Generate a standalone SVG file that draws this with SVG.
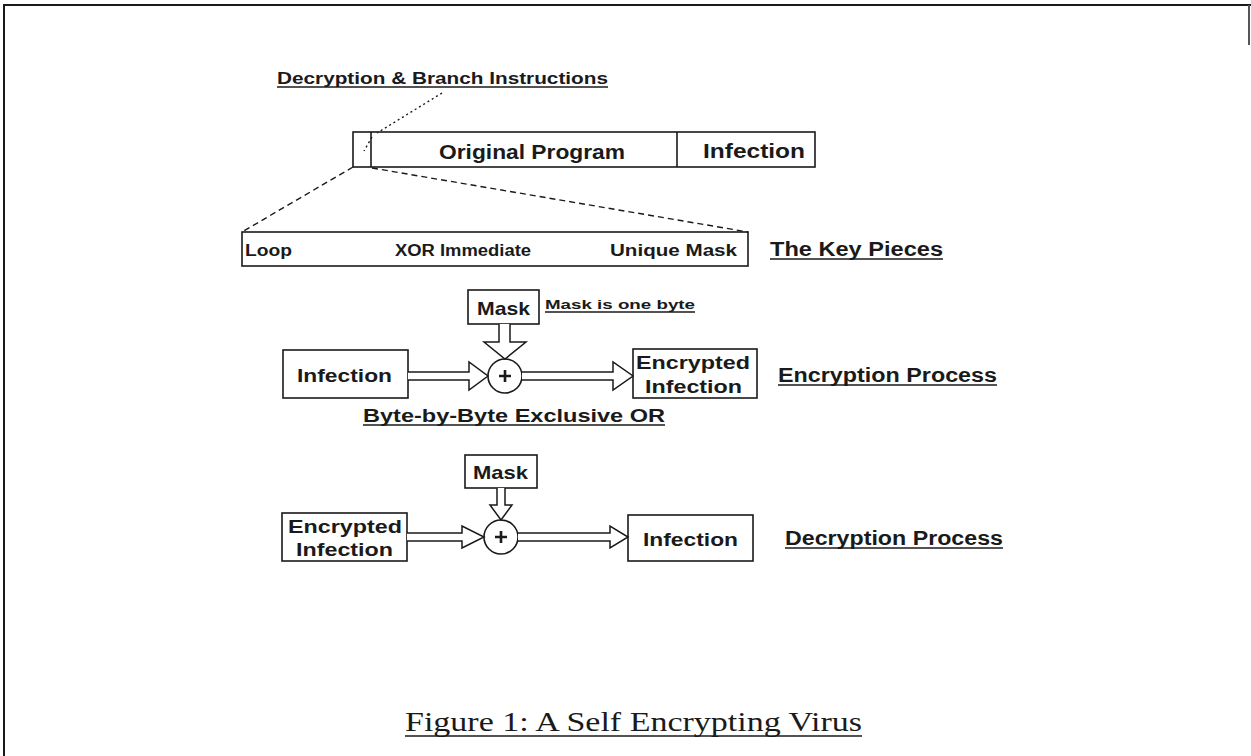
<svg xmlns="http://www.w3.org/2000/svg" width="1251" height="756" viewBox="0 0 1251 756">
<style>
.t{font-family:"Liberation Sans",Arial,sans-serif;font-weight:bold;fill:#1a1a1a}
.box{fill:none;stroke:#1a1a1a;stroke-width:1.6}
.ul{stroke:#1a1a1a;stroke-width:1.3}
.arr{fill:#fff;stroke:#1a1a1a;stroke-width:1.5;stroke-linejoin:miter}
.cap{font-family:"Liberation Serif","Times New Roman",serif;fill:#1a1a1a}
</style>
<rect width="1251" height="756" fill="#fff"/>
<g id="frame">
<path d="M4 756 V5 H1251" fill="none" stroke="#1a1a1a" stroke-width="2"/>
<path d="M1249 5 V45" stroke="#555" stroke-width="2"/>
</g>
<g id="label-decryption-branch">
<text class="t" x="277" y="84" font-size="17" textLength="331" lengthAdjust="spacingAndGlyphs">Decryption &amp; Branch Instructions</text>
<line class="ul" x1="277" y1="87" x2="608" y2="87"/>
</g>
<g id="program">
<rect class="box" x="353" y="132" width="462" height="35"/>
<line class="box" x1="371" y1="132" x2="371" y2="167"/>
<line class="box" x1="677" y1="132" x2="677" y2="167"/>
<text class="t" x="439" y="159" font-size="20" textLength="186" lengthAdjust="spacingAndGlyphs">Original Program</text>
<text class="t" x="703" y="158" font-size="20" textLength="102" lengthAdjust="spacingAndGlyphs">Infection</text>
</g>
<g id="keypieces">
<rect class="box" x="242" y="232" width="506" height="34"/>
<text class="t" x="245" y="256" font-size="16" textLength="47" lengthAdjust="spacingAndGlyphs">Loop</text>
<text class="t" x="395" y="256" font-size="16" textLength="136" lengthAdjust="spacingAndGlyphs">XOR Immediate</text>
<text class="t" x="610" y="256" font-size="16" textLength="127" lengthAdjust="spacingAndGlyphs">Unique Mask</text>
</g>
<g id="label-keypieces">
<text class="t" x="770" y="256" font-size="20" textLength="173" lengthAdjust="spacingAndGlyphs">The Key Pieces</text>
<line class="ul" x1="770" y1="259" x2="943" y2="259"/>
</g>
<g id="enc-mask">
<rect class="box" x="468" y="290" width="71" height="34"/>
<text class="t" x="477" y="315" font-size="19" textLength="53" lengthAdjust="spacingAndGlyphs">Mask</text>
</g>
<g id="label-mask-byte">
<text class="t" x="545" y="309" font-size="13" textLength="150" lengthAdjust="spacingAndGlyphs">Mask is one byte</text>
<line class="ul" x1="545" y1="312" x2="695" y2="312"/>
</g>
<g id="enc-infection">
<rect class="box" x="283" y="350" width="125" height="48"/>
<text class="t" x="297" y="382" font-size="19" textLength="95" lengthAdjust="spacingAndGlyphs">Infection</text>
</g>
<g id="enc-xor">
<circle class="box" cx="505" cy="376" r="17"/>
<path d="M499 376 H511 M505 370 V382" stroke="#1a1a1a" stroke-width="2.6"/>
</g>
<g id="enc-encrypted">
<rect class="box" x="633" y="349" width="124" height="49"/>
<text class="t" x="636" y="369" font-size="19" textLength="114" lengthAdjust="spacingAndGlyphs">Encrypted</text>
<text class="t" x="645" y="393" font-size="19" textLength="97" lengthAdjust="spacingAndGlyphs">Infection</text>
</g>
<g id="label-encryption">
<text class="t" x="778" y="382" font-size="20" textLength="219" lengthAdjust="spacingAndGlyphs">Encryption Process</text>
<line class="ul" x1="778" y1="385" x2="997" y2="385"/>
</g>
<g id="label-xor">
<text class="t" x="363" y="422" font-size="19" textLength="302" lengthAdjust="spacingAndGlyphs">Byte-by-Byte Exclusive OR</text>
<line class="ul" x1="363" y1="425" x2="665" y2="425"/>
</g>
<g id="dec-mask">
<rect class="box" x="465" y="455" width="72" height="33"/>
<text class="t" x="473" y="479" font-size="19" textLength="55" lengthAdjust="spacingAndGlyphs">Mask</text>
</g>
<g id="dec-encrypted">
<rect class="box" x="282" y="513" width="125" height="48"/>
<text class="t" x="288" y="533" font-size="19" textLength="114" lengthAdjust="spacingAndGlyphs">Encrypted</text>
<text class="t" x="296" y="556" font-size="19" textLength="97" lengthAdjust="spacingAndGlyphs">Infection</text>
</g>
<g id="dec-xor">
<circle class="box" cx="501" cy="537" r="17"/>
<path d="M495 537 H507 M501 531 V543" stroke="#1a1a1a" stroke-width="2.6"/>
</g>
<g id="dec-infection">
<rect class="box" x="628" y="515" width="125" height="46"/>
<text class="t" x="643" y="546" font-size="19" textLength="95" lengthAdjust="spacingAndGlyphs">Infection</text>
</g>
<g id="label-decryption">
<text class="t" x="785" y="545" font-size="20" textLength="218" lengthAdjust="spacingAndGlyphs">Decryption Process</text>
<line class="ul" x1="785" y1="548" x2="1003" y2="548"/>
</g>
<g id="connectors">
<path d="M442 93 L377 133 M372 137 L364 151" fill="none" stroke="#1a1a1a" stroke-width="1.4" stroke-dasharray="2 3"/>
<path d="M353 167 L242 232 M372 168 L748 232" fill="none" stroke="#1a1a1a" stroke-width="1.4" stroke-dasharray="6 4"/>
<path class="arr" d="M499 324 V342 H484 L505 359 L526 342 H510 V324"/>
<path class="arr" d="M408 372 H469 V362 L488 376 L469 390 V380 H408"/>
<path class="arr" d="M522 372 H613 V362 L633 376 L613 390 V380 H522"/>
<path class="arr" d="M497 488 V505 H490 L501 520 L512 505 H505 V488"/>
<path class="arr" d="M407 533 H462 V526 L484 537 L462 548 V541 H407"/>
<path class="arr" d="M518 533 H610 V526 L628 537 L610 548 V541 H518"/>
</g>
<g id="caption">
<text class="cap" x="405" y="731" font-size="28" textLength="457" lengthAdjust="spacingAndGlyphs">Figure 1: A Self Encrypting Virus</text>
<line class="ul" x1="405" y1="736" x2="862" y2="736"/>
</g>
</svg>
